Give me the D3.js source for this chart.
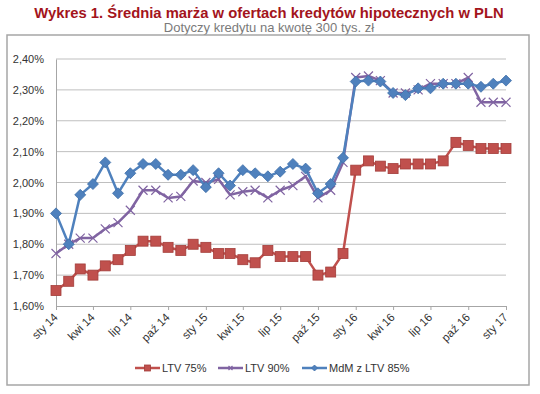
<!DOCTYPE html>
<html>
<head>
<meta charset="utf-8">
<script src="https://cdn.jsdelivr.net/npm/d3@7"></script>
<style>
  body { margin: 0; background: #fff; }
  svg { display: block; }
</style>
</head>
<body>
<div id="chart"></div>
<script>
// monthly margins (%), Jan 2014 - Jan 2017
const months = d3.timeMonths(new Date(2014, 0, 1), new Date(2017, 0, 2));
const ltv75 = [1.65, 1.68, 1.72, 1.70, 1.73, 1.75, 1.78, 1.81, 1.81, 1.79, 1.78, 1.80,
    1.79, 1.77, 1.77, 1.75, 1.74, 1.78, 1.76, 1.76, 1.76, 1.70, 1.71, 1.77,
    2.04, 2.07, 2.053, 2.045, 2.06, 2.06, 2.06, 2.07, 2.13, 2.12, 2.11, 2.11, 2.11];
const ltv90 = [1.77, 1.80, 1.82, 1.82, 1.85, 1.87, 1.91, 1.975, 1.975, 1.95, 1.955, 2.005,
    2.00, 2.01, 1.96, 1.97, 1.975, 1.95, 1.975, 1.99, 2.02, 1.95, 1.975, 2.065,
    2.34, 2.345, 2.33, 2.29, 2.29, 2.30, 2.32, 2.32, 2.32, 2.34, 2.26, 2.26, 2.26];
const mdm = [1.90, 1.80, 1.96, 1.995, 2.065, 1.965, 2.03, 2.06, 2.06, 2.025, 2.025, 2.04,
    1.985, 2.03, 1.99, 2.04, 2.03, 2.02, 2.035, 2.06, 2.045, 1.965, 1.995, 2.08,
    2.327, 2.33, 2.327, 2.29, 2.283, 2.305, 2.305, 2.32, 2.32, 2.32, 2.31, 2.32, 2.33];
const yTicks = [1.6, 1.7, 1.8, 1.9, 2.0, 2.1, 2.2, 2.3, 2.4];
const monthNames = ["sty", "lut", "mar", "kwi", "maj", "cze", "lip", "sie", "wrz", "paź", "lis", "gru"];

const series = [
    { name: "LTV 75%", values: ltv75, color: "#c0504d", marker: "square" },
    { name: "LTV 90%", values: ltv90, color: "#8064a2", marker: "cross" },
    { name: "MdM z LTV 85%", values: mdm, color: "#4f81bd", marker: "diamond" }
];

const svg = d3.select("#chart")
    .append("svg")
    .attr("width", 540)
    .attr("height", 394);

const plot = { left: 56, right: 506, top: 59, bottom: 306 };

// title
svg.append("text")
    .attr("x", 269)
    .attr("y", 18)
    .attr("text-anchor", "middle")
    .attr("font-family", "Liberation Sans, Arial, sans-serif")
    .attr("font-weight", "bold")
    .attr("font-size", 14.8)
    .attr("fill", "#a3141c")
    .text("Wykres 1. Średnia marża w ofertach kredytów hipotecznych w PLN");

svg.append("text")
    .attr("x", 269)
    .attr("y", 32)
    .attr("text-anchor", "middle")
    .attr("font-family", "Liberation Sans, Arial, sans-serif")
    .attr("font-size", 13)
    .attr("fill", "#7a7a7a")
    .text("Dotyczy kredytu na kwotę 300 tys. zł");

// chart frame
svg.append("rect")
    .attr("x", 7)
    .attr("y", 35)
    .attr("width", 522)
    .attr("height", 350)
    .attr("fill", "#fff")
    .attr("stroke", "#a6a6a6")
    .attr("stroke-width", 1.5);

const xScale = d3.scaleTime()
    .domain([months[0], months[months.length - 1]])
    .range([plot.left, plot.right]);

const yScale = d3.scaleLinear()
    .domain([1.6, 2.4])
    .range([plot.bottom, plot.top]);

// gridlines
svg.append("g")
    .selectAll("line")
    .data(yTicks.slice(1))
    .join("line")
    .attr("x1", plot.left)
    .attr("x2", plot.right)
    .attr("y1", d => yScale(d))
    .attr("y2", d => yScale(d))
    .attr("stroke", "#bfbfbf")
    .attr("stroke-width", 1);

// y axis
const yAxis = svg.append("g")
    .attr("transform", `translate(${plot.left},0)`)
    .call(d3.axisLeft(yScale)
        .tickValues(yTicks)
        .tickSize(0)
        .tickPadding(12)
        .tickFormat(d => d3.format(".2f")(d).replace(".", ",") + "%"));
yAxis.select(".domain").attr("stroke", "#a6a6a6");
yAxis.selectAll("text")
    .attr("font-family", "Liberation Sans, Arial, sans-serif")
    .attr("font-size", 11)
    .attr("fill", "#333");

// x axis
const quarterMonths = months.filter((d, i) => i % 3 === 0);
const xAxis = svg.append("g")
    .attr("transform", `translate(0,${plot.bottom})`)
    .call(d3.axisBottom(xScale)
        .tickValues(quarterMonths)
        .tickSize(4)
        .tickSizeOuter(0)
        .tickFormat(d => monthNames[d.getMonth()] + " " + String(d.getFullYear()).slice(2)));
xAxis.select(".domain").attr("stroke", "#a6a6a6");
xAxis.selectAll(".tick line").attr("stroke", "#a6a6a6");
xAxis.selectAll("text")
    .attr("font-family", "Liberation Sans, Arial, sans-serif")
    .attr("font-size", 11.5)
    .attr("fill", "#333")
    .attr("text-anchor", "end")
    .attr("dy", null)
    .attr("y", 0)
    .attr("transform", "translate(2,12) rotate(-45)");

// marker shapes
function drawMarker(g, type, color, size) {
    const h = size / 2;
    if (type === "square") {
        g.append("rect")
            .attr("x", -h).attr("y", -h)
            .attr("width", size).attr("height", size)
            .attr("fill", color)
            .attr("stroke", "#a33d3a")
            .attr("stroke-width", 0.8);
    } else if (type === "diamond") {
        g.append("path")
            .attr("d", `M0,${-h - 1}L${h + 1},0L0,${h + 1}L${-h - 1},0Z`)
            .attr("fill", color)
            .attr("stroke", "#3f6fa8")
            .attr("stroke-width", 0.8);
    } else {
        g.append("path")
            .attr("d", `M${-h},${-h}L${h},${h}M${-h},${h}L${h},${-h}`)
            .attr("stroke", color)
            .attr("stroke-width", 1.2)
            .attr("fill", "none");
    }
}

const line = d3.line()
    .x((d, i) => xScale(months[i]))
    .y(d => yScale(d));

series.forEach(s => {
    const g = svg.append("g");
    g.append("path")
        .datum(s.values)
        .attr("d", line)
        .attr("fill", "none")
        .attr("stroke", s.color)
        .attr("stroke-width", 2.5)
        .attr("stroke-linejoin", "round");
    g.selectAll("g.m")
        .data(s.values)
        .join("g")
        .attr("class", "m")
        .attr("transform", (d, i) => `translate(${xScale(months[i])},${yScale(d)})`)
        .each(function () {
            drawMarker(d3.select(this), s.marker, s.color, s.marker === "square" ? 10 : 9);
        });
});

// legend
const legendX = [135, 218, 302];
const legend = svg.append("g");
series.forEach((s, i) => {
    const g = legend.append("g").attr("transform", `translate(${legendX[i]},368)`);
    g.append("line")
        .attr("x1", 0).attr("x2", 25)
        .attr("stroke", s.color)
        .attr("stroke-width", 2.5);
    drawMarker(g.append("g").attr("transform", "translate(12.5,0)"), s.marker, s.color, s.marker === "square" ? 6 : 4);
    g.append("text")
        .attr("x", 27)
        .attr("y", 4)
        .attr("font-family", "Liberation Sans, Arial, sans-serif")
        .attr("font-size", 11)
        .attr("fill", "#333")
        .text(s.name);
});
</script>
</body>
</html>
